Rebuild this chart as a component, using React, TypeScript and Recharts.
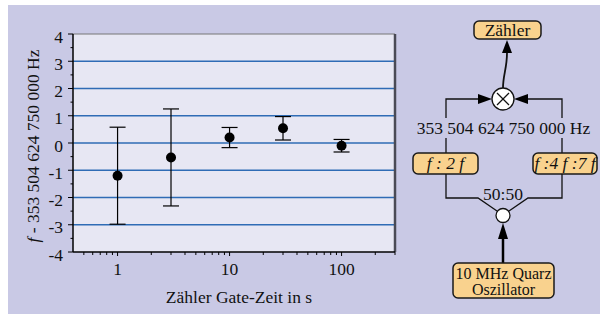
import React from "react";
import { ScatterChart, Scatter, XAxis, YAxis, CartesianGrid, ErrorBar, ReferenceLine } from "recharts";

const gateTimes = [1, 3, 10, 30, 100];
const offsets = [-1.2, -0.53, 0.2, 0.54, -0.1];
const errors = [1.78, 1.78, 0.37, 0.43, 0.23];

const yTicks = [-4, -3.5, -3, -2.5, -2, -1.5, -1, -0.5, 0, 0.5, 1, 1.5, 2, 2.5, 3, 3.5, 4];
const yGrid = [-3, -2, -1, 0, 1, 2, 3];
const xTicks = [0.5, 0.6, 0.7, 0.8, 0.9, 1, 2, 3, 4, 5, 6, 7, 8, 9, 10, 20, 30, 40, 50, 60, 70, 80, 90, 100, 200, 300];
const xLabeled = [1, 10, 100];

const points = gateTimes.map((x, i) => ({ x, y: offsets[i], err: errors[i] }));

const FONT = "Liberation Serif, Times New Roman, Times, serif";
const BG = "#c9c9e5";
const PLOT_BG = "#e7e7f3";
const BOX = "#f9d28e";
const FS = 17.5;

const txt: React.CSSProperties = { fontFamily: FONT };

function YTick(props: any) {
  const { x, y, payload } = props;
  const v = payload.value as number;
  const major = Number.isInteger(v);
  return (
    <g>
      <line x1={x - (major ? 5 : 2.5)} x2={x} y1={y} y2={y} stroke="#000" strokeWidth={1} />
      {major && (
        <text x={x - 10} y={y + 8.5} textAnchor="end" fontSize={FS} style={txt} fill="#111">
          {v < 0 ? `-${Math.abs(v)}` : String(v)}
        </text>
      )}
    </g>
  );
}

function XTick(props: any) {
  const { x, y, payload } = props;
  const v = payload.value as number;
  const major = xLabeled.includes(v);
  return (
    <g>
      <line x1={x} x2={x} y1={y} y2={y + (major ? 4 : 3)} stroke="#000" strokeWidth={1} />
      {major && (
        <text x={x} y={y + 23} textAnchor="middle" fontSize={FS} style={txt} fill="#111">
          {String(v)}
        </text>
      )}
    </g>
  );
}

function Dot(props: any) {
  return <circle cx={props.cx} cy={props.cy} r={5} fill="#000" />;
}

function Box({ x, y, w, h }: { x: number; y: number; w: number; h: number }) {
  return <rect x={x} y={y} width={w} height={h} rx={5} ry={5} fill={BOX} stroke="#1a1a1a" strokeWidth={1.5} />;
}

function Diagram() {
  const line = { stroke: "#111", strokeWidth: 1.3, fill: "none" };
  return (
    <svg width={600} height={314} style={{ position: "absolute", left: 0, top: 0, pointerEvents: "none", fontFamily: FONT }}>
      {/* axis labels */}
      <text x={239} y={303} textAnchor="middle" fontSize={FS} style={txt} fill="#111">
        Zähler Gate-Zeit in s
      </text>
      <text
        x={33}
        y={146}
        transform="rotate(-90 33 146)"
        textAnchor="middle"
        dominantBaseline="central"
        fontSize={FS}
        style={txt}
        fill="#111"
      >
        <tspan fontStyle="italic">f</tspan>
        {" - 353 504 624 750 000 Hz"}
      </text>

      {/* Zähler */}
      <Box x={474} y={21} w={67} h={18} />
      <text x={507.5} y={35.5} textAnchor="middle" fontSize={FS} style={txt} fill="#111">Zähler</text>
      <path d="M503 88 C503 75, 507 68, 507 53" stroke="#111" strokeWidth={1.8} fill="none" />
      <polygon points="507,40 502,53 512,53" fill="#000" />

      {/* mixer */}
      <path d="M446 118 V99 H479" {...line} />
      <polygon points="492,99 478,94 478,104" fill="#000" />
      <path d="M562 118 V99 H528" {...line} />
      <polygon points="514,99 528,94 528,104" fill="#000" />
      <circle cx={503} cy={99} r={11} fill="#fff" stroke="#111" strokeWidth={1.3} />
      <line x1={497} y1={93} x2={509} y2={105} stroke="#111" strokeWidth={1.3} />
      <line x1={509} y1={93} x2={497} y2={105} stroke="#111" strokeWidth={1.3} />

      <text x={503.5} y={134} textAnchor="middle" fontSize={FS} style={txt} fill="#111">
        353 504 624 750 000 Hz
      </text>
      <path d="M446 138 V153" {...line} />
      <path d="M562 138 V153" {...line} />

      {/* multipliers */}
      <Box x={413} y={153} w={65} h={21} />
      <text x={445.5} y={169} textAnchor="middle" fontSize={FS} style={txt} fill="#111" fontStyle="italic">
        f : 2 f
      </text>
      <Box x={533} y={153} w={64} h={21} />
      <text x={565} y={169} textAnchor="middle" fontSize={FS} style={txt} fill="#111" fontStyle="italic">
        f :4 f :7 f
      </text>

      {/* splitter */}
      <path d="M446 174 V198 H478 L497 211" {...line} />
      <path d="M562 174 V198 H528 L509 211" {...line} />
      <text x={503} y={200} textAnchor="middle" fontSize={FS} style={txt} fill="#111">50:50</text>
      <circle cx={503} cy={215.5} r={7} fill="#fff" stroke="#111" strokeWidth={1.3} />
      <line x1={503} y1={263} x2={503} y2={238} stroke="#000" strokeWidth={2.5} />
      <polygon points="503,223 498,239 508,239" fill="#000" />

      {/* oscillator */}
      <Box x={453} y={263} w={101} h={35} />
      <text x={503.5} y={279} textAnchor="middle" fontSize={16} style={txt} fill="#111">10 MHz Quarz</text>
      <text x={503.5} y={295} textAnchor="middle" fontSize={16} style={txt} fill="#111">Oszillator</text>
    </svg>
  );
}

export default function App() {
  return (
    <div style={{ position: "fixed", left: 0, top: 0, width: 600, height: 314, background: "#fff", overflow: "hidden", fontFamily: FONT }}>
      <div style={{ position: "absolute", left: 8, top: 5, right: 0, bottom: 0, background: BG }} />
      <div style={{ position: "absolute", left: 0, top: 0 }}>
        <ScatterChart width={400} height={314} margin={{ top: 34, right: 5, bottom: 32, left: 0 }}>
          <CartesianGrid
            vertical={false}
            horizontalValues={yGrid}
            stroke="#2f6cb5"
            strokeWidth={1.4}
            fill={PLOT_BG}
            fillOpacity={1}
          />
          <XAxis
            dataKey="x"
            type="number"
            scale="log"
            domain={[0.4, 300]}
            allowDataOverflow
            ticks={xTicks}
            interval={0}
            height={30}
            tickSize={0}
            tickMargin={0}
            tickLine={false}
            tick={XTick}
            axisLine={{ stroke: "#000", strokeWidth: 1.5 }}
          />
          <YAxis
            dataKey="y"
            type="number"
            domain={[-4, 4]}
            ticks={yTicks}
            interval={0}
            width={73}
            tickSize={0}
            tickMargin={0}
            tickLine={false}
            tick={YTick}
            axisLine={{ stroke: "#000", strokeWidth: 1.5 }}
          />
          <ReferenceLine y={4} stroke="#777" strokeWidth={1} />
          <ReferenceLine x={300} stroke="#4a4a55" strokeWidth={2.5} />
          <Scatter data={points} dataKey="y" fill="#000" shape={Dot} isAnimationActive={false}>
            <ErrorBar dataKey="err" direction="y" width={8} stroke="#000" strokeWidth={1.2} />
          </Scatter>
        </ScatterChart>
      </div>
      <Diagram />
    </div>
  );
}
